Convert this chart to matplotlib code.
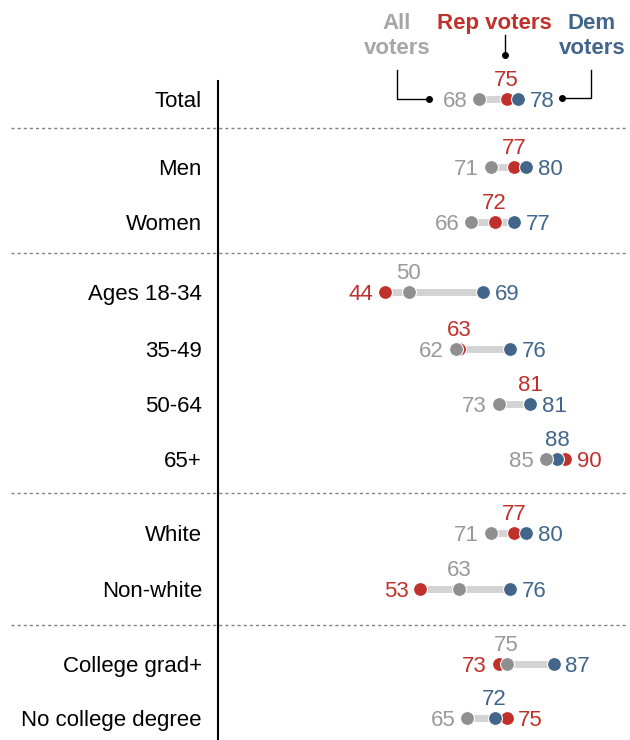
import matplotlib
matplotlib.use("Agg")
import matplotlib.pyplot as plt

plt.rcParams['font.family'] = ['Liberation Sans', 'DejaVu Sans']

# data
categories = ["Total", "Men", "Women", "Ages 18-34", "35-49", "50-64", "65+",
              "White", "Non-white", "College grad+", "No college degree"]
all_voters = [68, 71, 66, 50, 62, 73, 85, 71, 63, 75, 65]
rep_voters = [75, 77, 72, 44, 63, 81, 90, 77, 53, 73, 75]
dem_voters = [78, 80, 77, 69, 76, 81, 88, 80, 76, 87, 72]

# layout (pixel rows, top-down)
row_y = [99, 167, 222, 292, 349, 404, 459, 533, 589, 664, 718]
sep_y = [128, 253, 492.5, 625]

GRAY, RED, BLUE = "#8f8f8f", "#c0312b", "#416689"
GRAY_TXT = "#999999"
BAR = "#d3d3d3"

# x: value 0 at 212.5 px, 3.92 px per point
X0, SCALE = 212.5, 3.92
W, H = 630, 740
def px(xp):
    return (xp - X0) / SCALE

fig = plt.figure(figsize=(6.3, 7.4), dpi=100)
ax = fig.add_axes([0, 0, 1, 1])
ax.set_xlim(px(0), px(W))
ax.set_ylim(H, 0)
ax.axis("off")

series = [(all_voters, GRAY, GRAY_TXT, 5),
          (rep_voters, RED, RED, 3),
          (dem_voters, BLUE, BLUE, 4)]

fs = 16
off = 3.0
va = "center_baseline"
for i, cat in enumerate(categories):
    yy = row_y[i]
    ax.text(px(202), yy, cat, ha="right", va=va, fontsize=fs, color="black")
    vals = [(s[0][i], s) for s in series]
    lo = min(v for v, _ in vals)
    hi = max(v for v, _ in vals)
    ax.plot([lo, hi], [yy, yy], color=BAR, lw=5, solid_capstyle="butt", zorder=1)
    for v, s in vals:
        ax.plot(v, yy, "o", ms=10, color=s[1], mec="white", mew=0.8, zorder=s[3])
    order = sorted(vals, key=lambda t: t[0])
    (v0, s0), (v1, s1), (v2, s2) = order
    ax.text(v0 - off, yy, str(v0), ha="right", va=va, fontsize=fs, color=s0[2])
    ax.text(v2 + off, yy, str(v2), ha="left", va=va, fontsize=fs, color=s2[2])
    ax.text(v1, yy - 21, str(v1), ha="center", va=va, fontsize=fs, color=s1[2])

# separators
for ys in sep_y:
    ax.plot([px(11), px(626)], [ys, ys], color="#808080", lw=1,
            ls=(0, (2.2, 2.2)), zorder=0)

# vertical axis line
ax.plot([px(218), px(218)], [81, H], color="black", lw=1.5, zorder=0)

# header legend
ax.text(px(397), 36, "All\nvoters", ha="center", va="center", fontsize=fs,
        fontweight="bold", color="#a6a6a6", linespacing=1.25)
ax.text(px(494), 21.5, "Rep voters", ha="center", va=va, fontsize=fs,
        fontweight="bold", color=RED)
ax.text(px(592), 36, "Dem\nvoters", ha="center", va="center", fontsize=fs,
        fontweight="bold", color=BLUE, linespacing=1.25)
ax.plot([px(397), px(397), px(429)], [70, 99, 99], color="black", lw=1)
ax.plot(px(429), 99, "o", ms=4, color="black")
ax.plot([px(505), px(505)], [35, 55], color="black", lw=1)
ax.plot(px(505), 55, "o", ms=4, color="black")
ax.plot([px(591), px(591), px(562)], [70, 98, 98], color="black", lw=1)
ax.plot(px(562), 98, "o", ms=4, color="black")

fig.savefig("out.png", dpi=100)
